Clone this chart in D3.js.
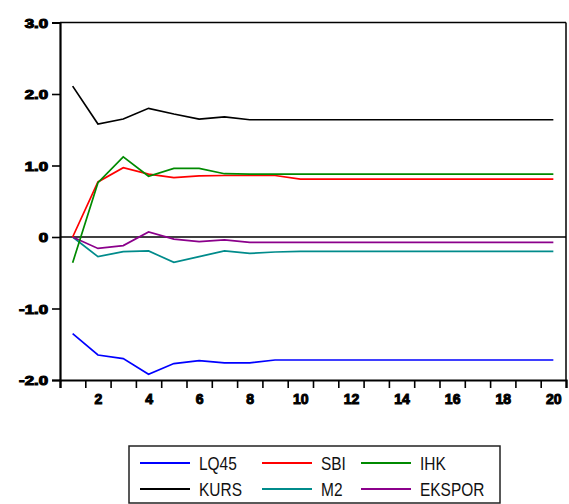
<!DOCTYPE html>
<html>
<head>
<meta charset="utf-8">
<script src="https://cdn.jsdelivr.net/npm/d3@7/dist/d3.min.js"></script>
<style>
  html, body { margin: 0; padding: 0; background: #fff; }
  svg { display: block; }
</style>
</head>
<body>
<svg id="chart" width="569" height="504"></svg>
<script>
// ---- data ----
const periods = [1,2,3,4,5,6,7,8,9,10,11,12,13,14,15,16,17,18,19,20];
const xTickLabels = [2,4,6,8,10,12,14,16,18,20];
const yTickValues = [-2,-1,0,1,2,3];
const yTickLabels = ["-2.0","-1.0","0","1.0","2.0","3.0"];

const LQ45   = [-1.35,-1.65,-1.70,-1.92,-1.77,-1.73,-1.76,-1.76,-1.72,-1.72,-1.72,-1.72,-1.72,-1.72,-1.72,-1.72,-1.72,-1.72,-1.72,-1.72];
const SBI    = [0.00,0.77,0.97,0.88,0.83,0.855,0.86,0.86,0.86,0.81,0.81,0.81,0.81,0.81,0.81,0.81,0.81,0.81,0.81,0.81];
const IHK    = [-0.36,0.76,1.12,0.85,0.96,0.96,0.885,0.88,0.88,0.88,0.88,0.88,0.88,0.88,0.88,0.88,0.88,0.88,0.88,0.88];
const KURS   = [2.11,1.58,1.65,1.80,1.72,1.65,1.68,1.64,1.64,1.64,1.64,1.64,1.64,1.64,1.64,1.64,1.64,1.64,1.64,1.64];
const M2     = [0.00,-0.275,-0.205,-0.195,-0.355,-0.275,-0.195,-0.23,-0.21,-0.20,-0.20,-0.20,-0.20,-0.20,-0.20,-0.20,-0.20,-0.20,-0.20,-0.20];
const EKSPOR = [0.00,-0.16,-0.12,0.07,-0.03,-0.065,-0.04,-0.075,-0.075,-0.075,-0.075,-0.075,-0.075,-0.075,-0.075,-0.075,-0.075,-0.075,-0.075,-0.075];

const seriesNames  = ["LQ45","SBI","IHK","KURS","M2","EKSPOR"];
const seriesColors = ["#0000ff","#ff0000","#008a00","#000000","#008b8b","#8b008b"];
const seriesValues = [LQ45, SBI, IHK, KURS, M2, EKSPOR];

// ---- layout ----
const L = 60, R = 566, T = 22.5, B = 380;
const svg = d3.select("#chart");

const x = d3.scaleLinear().domain([0.5, 20.5]).range([L, R]);
const y = d3.scaleLinear().domain([-2, 3]).range([B, T]);

// frame (top & right)
svg.append("line").attr("x1", L).attr("x2", R).attr("y1", T).attr("y2", T)
  .attr("stroke", "#000").attr("stroke-width", 1.5);
svg.append("line").attr("x1", R).attr("x2", R).attr("y1", T).attr("y2", B)
  .attr("stroke", "#000").attr("stroke-width", 1.5);

// zero line
svg.append("line").attr("x1", L).attr("x2", R).attr("y1", y(0)).attr("y2", y(0))
  .attr("stroke", "#000").attr("stroke-width", 1.6);

// y axis
const yAxis = svg.append("g").attr("transform", `translate(${L},0)`)
  .call(d3.axisLeft(y).tickValues(yTickValues).tickSize(8)
    .tickFormat((d, i) => yTickLabels[i]));
yAxis.select(".domain").attr("stroke", "#000").attr("stroke-width", 2.2);
yAxis.selectAll(".tick line").attr("stroke", "#000").attr("stroke-width", 1.6);
yAxis.selectAll(".tick text").each(function() {
  d3.select(this).attr("x", null).attr("dy", null)
   .attr("transform", "translate(-12,4.5) scale(1.4,1)")
   .attr("text-anchor", "end")
   .attr("font-family", "'Liberation Sans', Arial, sans-serif")
   .attr("font-weight", "bold").attr("font-size", 12)
   .attr("fill", "#000").attr("stroke", "#000").attr("stroke-width", 1);
});

// x axis: boundary ticks
const xAxis = svg.append("g").attr("transform", `translate(0,${B})`)
  .call(d3.axisBottom(x).tickValues(periods.map(p => p - 0.5).concat([20.5]))
    .tickSize(8).tickFormat(""));
xAxis.select(".domain").attr("stroke", "#000").attr("stroke-width", 2.2);
xAxis.selectAll(".tick line").attr("stroke", "#000").attr("stroke-width", 1.6);

// x axis labels at period centers
const xLab = svg.append("g").attr("transform", `translate(0,${B})`)
  .call(d3.axisBottom(x).tickValues(xTickLabels).tickSize(0).tickPadding(14)
    .tickFormat(d3.format("d")));
xLab.select(".domain").remove();
xLab.selectAll(".tick text")
  .attr("font-family", "'Liberation Sans', Arial, sans-serif")
  .attr("font-weight", "bold").attr("font-size", 14)
  .attr("fill", "#000").attr("stroke", "#000").attr("stroke-width", 1);

// series lines
const line = d3.line().x((d, i) => x(periods[i])).y(d => y(d));
const drawOrder = [3, 4, 5, 0, 1, 2];
drawOrder.forEach(k => {
  svg.append("path").datum(seriesValues[k])
    .attr("d", line)
    .attr("fill", "none")
    .attr("stroke", seriesColors[k])
    .attr("stroke-width", 1.7);
});

// legend
const lg = svg.append("g");
lg.append("rect").attr("x", 129).attr("y", 446).attr("width", 371).attr("height", 57)
  .attr("fill", "#fff").attr("stroke", "#222").attr("stroke-width", 1.5);
const colX = [140, 262, 361];
const rowY = [463, 489];
seriesNames.forEach((name, i) => {
  const c = i % 3, r = Math.floor(i / 3);
  const lx = colX[c], ly = rowY[r];
  lg.append("line").attr("x1", lx).attr("x2", lx + 50).attr("y1", ly).attr("y2", ly)
    .attr("stroke", seriesColors[i]).attr("stroke-width", 2.2);
  lg.append("text")
    .attr("transform", `translate(${lx + 59},${ly + 6.5}) scale(0.86,1)`)
    .attr("font-family", "'Liberation Sans', Arial, sans-serif")
    .attr("font-size", 18).attr("fill", "#111")
    .text(name);
});
</script>
</body>
</html>
